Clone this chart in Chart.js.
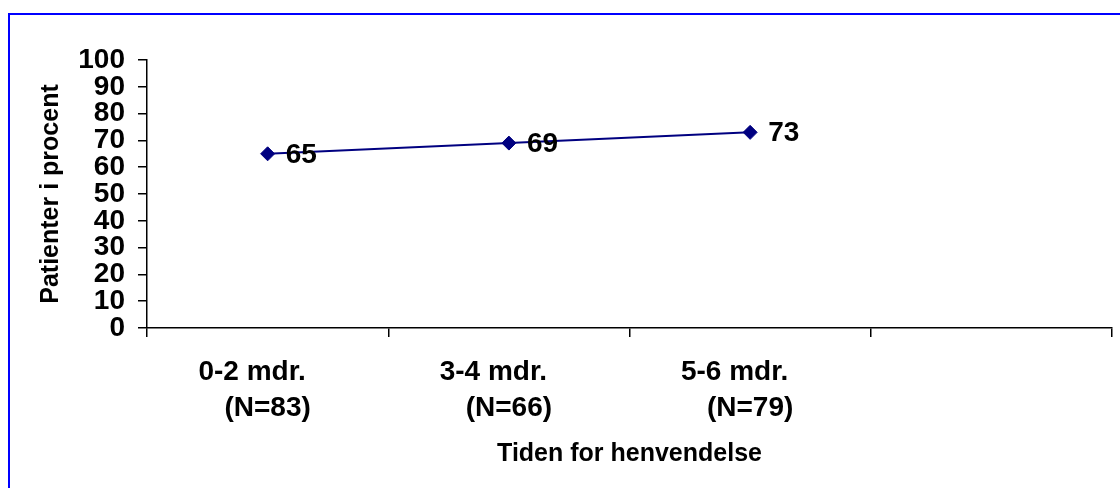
<!DOCTYPE html>
<html lang="da">
<head>
<meta charset="utf-8">
<title>Patienter i procent</title>
<script src="https://cdn.jsdelivr.net/npm/chart.js@4.4.1/dist/chart.umd.min.js"></script>
<style>
  html, body { margin: 0; padding: 0; background: #ffffff; overflow: hidden; }
  canvas { display: block; }
</style>
</head>
<body>
<canvas id="chart" width="1120" height="488"></canvas>
<script>
// Time of contact (months) and number of patients in each group
const periods = ['0-2 mdr.', '3-4 mdr.', '5-6 mdr.', ''];
const counts = ['(N=83)', '(N=66)', '(N=79)', ''];
// Share of patients, percent
const shares = [65, 69, 73];
// Value axis
const yMin = 0;
const yMax = 100;
const yStep = 10;

const FONT = "'Liberation Sans', Arial, sans-serif";
const ink = '#000000';
const navy = '#000080';

// first line padded on the right so the count line sits a little to the right
const labels = periods.map((p, i) => p ? [p + '    ', counts[i]] : '');

const frame = {
  id: 'frame',
  beforeDraw(chart) {
    const ctx = chart.ctx;
    ctx.save();
    ctx.fillStyle = '#ffffff';
    ctx.fillRect(0, 0, chart.width, chart.height);
    ctx.strokeStyle = '#0000ff';
    ctx.lineWidth = 2;
    ctx.strokeRect(9, 14, chart.width + 40, chart.height + 40);
    ctx.restore();
  }
};

const valueLabels = {
  id: 'valueLabels',
  afterDatasetsDraw(chart) {
    const ctx = chart.ctx;
    const meta = chart.getDatasetMeta(0);
    const values = chart.data.datasets[0].data;
    ctx.save();
    ctx.font = 'bold 28px ' + FONT;
    ctx.fillStyle = ink;
    ctx.textAlign = 'left';
    ctx.textBaseline = 'middle';
    meta.data.forEach((pt, i) => {
      if (values[i] == null) return;
      ctx.fillText(String(values[i]), pt.x + 18, pt.y + 1);
    });
    ctx.restore();
  }
};

new Chart(document.getElementById('chart'), {
  type: 'line',
  data: {
    labels: labels,
    datasets: [{
      data: shares,
      borderColor: navy,
      borderWidth: 2,
      backgroundColor: navy,
      pointStyle: 'rectRot',
      pointRadius: 7,
      pointBorderWidth: 1,
      pointBackgroundColor: navy,
      pointBorderColor: navy,
      tension: 0,
      fill: false
    }]
  },
  options: {
    responsive: false,
    devicePixelRatio: 1,
    animation: false,
    layout: { padding: { top: 60, right: 8, left: 0, bottom: 0 } },
    plugins: {
      legend: { display: false },
      tooltip: { enabled: false }
    },
    scales: {
      x: {
        type: 'category',
        offset: true,
        grid: {
          offset: true,
          drawOnChartArea: false,
          drawTicks: true,
          tickLength: 9,
          color: ink,
          lineWidth: 1.5
        },
        border: { display: true, color: ink, width: 1.5 },
        ticks: {
          autoSkip: false,
          maxRotation: 0,
          minRotation: 0,
          padding: 17,
          color: ink,
          font: { family: FONT, size: 28, weight: 'bold', lineHeight: 1.29 }
        },
        title: {
          display: true,
          text: 'Tiden for henvendelse',
          color: ink,
          font: { family: FONT, size: 25, weight: 'bold', lineHeight: 1.2 },
          padding: { top: 0, bottom: 19 }
        },
        afterFit(scale) { scale.height = 160; }
      },
      y: {
        min: yMin,
        max: yMax,
        grid: {
          drawOnChartArea: false,
          drawTicks: true,
          tickLength: 9,
          color: ink,
          lineWidth: 1.5
        },
        border: { display: true, color: ink, width: 1.5 },
        ticks: {
          stepSize: yStep,
          autoSkip: false,
          padding: 13,
          color: ink,
          font: { family: FONT, size: 28, weight: 'bold', lineHeight: 1 }
        },
        title: {
          display: true,
          text: 'Patienter i procent',
          color: ink,
          font: { family: FONT, size: 25, weight: 'bold', lineHeight: 1.2 },
          padding: { top: 36, bottom: 0 }
        },
        afterFit(scale) { scale.width = 147; }
      }
    }
  },
  plugins: [frame, valueLabels]
});
</script>
</body>
</html>
